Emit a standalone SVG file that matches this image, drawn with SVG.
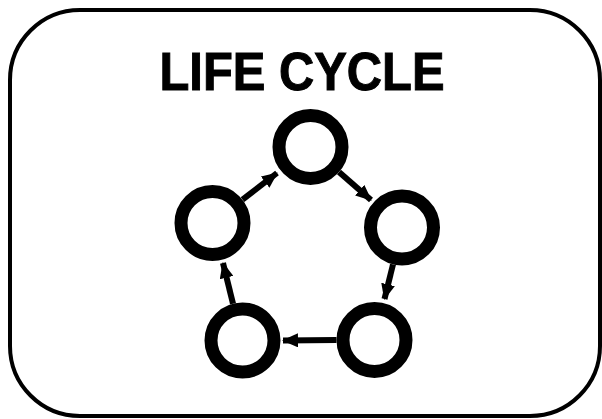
<svg xmlns="http://www.w3.org/2000/svg" width="602" height="419" viewBox="0 0 602 419">
<style>
.frame{fill:#fff;stroke:#000;stroke-width:4}
.node{fill:#fff;stroke:#000;stroke-width:13}
.edge{fill:none;stroke:#000;stroke-width:6;marker-end:url(#arr)}
.title{font-family:"Liberation Sans",Arial,sans-serif;font-weight:bold;font-size:53px;fill:#000;stroke:#000;stroke-width:1}
</style>
<defs>
<marker id="arr" viewBox="0 0 16 14" refX="15" refY="7" markerWidth="16" markerHeight="14" markerUnits="userSpaceOnUse" orient="auto">
<path d="M0,0 L16,7 L0,14 Z" fill="#000"/>
</marker>
</defs>
<rect class="frame" x="10" y="10" width="590" height="406" rx="70" ry="70"/>
<text class="title" x="302" y="90" text-anchor="middle" textLength="285" lengthAdjust="spacingAndGlyphs">LIFE CYCLE</text>
<g id="connectors">
<line class="edge" x1="242.5" y1="199.7" x2="277" y2="173"/>
<line class="edge" x1="339" y1="172" x2="371" y2="200"/>
<line class="edge" x1="393" y1="264.4" x2="384.5" y2="299"/>
<line class="edge" x1="336.5" y1="340" x2="283" y2="340.5"/>
<line class="edge" x1="233" y1="303.7" x2="223" y2="263"/>
</g>
<g id="node-top"><circle class="node" cx="310.5" cy="147" r="31.5"/></g>
<g id="node-right"><circle class="node" cx="402" cy="227.5" r="31.5"/></g>
<g id="node-bottom-right"><circle class="node" cx="374.5" cy="340" r="31.5"/></g>
<g id="node-bottom-left"><circle class="node" cx="242.5" cy="340.5" r="31.5"/></g>
<g id="node-left"><circle class="node" cx="212.5" cy="223" r="31.5"/></g>
</svg>
